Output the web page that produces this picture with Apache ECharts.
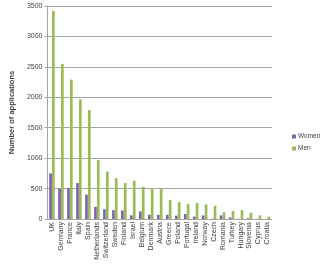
<!DOCTYPE html>
<html><head><meta charset="utf-8">
<script src="https://cdn.jsdelivr.net/npm/echarts@6/dist/echarts.min.js"></script>
<style>html,body{margin:0;padding:0;background:#fff}#c{width:320px;height:265px}</style>
</head><body><div id="c"></div>
<script>
var categories = ["UK","Germany","France","Italy","Spain","Netherlands","Switzerland","Sweden","Finland","Israel","Belgium","Denmark","Austria","Greece","Poland","Portugal","Ireland","Norway","Czech","Romania","Turkey","Hungary","Slovenia","Cyprus","Croatia"];
var women = [750,500,510,590,400,200,160,145,140,60,125,70,68,68,55,82,40,58,4,60,25,3,14,3,3];
var men = [3420,2550,2290,1965,1790,970,780,670,590,630,530,495,495,315,278,248,262,240,217,110,132,145,105,60,40];
var yTicks = {min:0, max:3500, interval:500};

var chart = echarts.init(document.getElementById('c'), null, {renderer:'canvas'});
var font = '"Liberation Sans", Arial, sans-serif';
chart.setOption({
  animation:false,
  textStyle:{fontFamily:font},
  grid:{left:40, right:48, top:6, bottom:46, containLabel:false},
  legend:{orient:'vertical', left:287, top:128, itemWidth:4, itemHeight:4, itemGap:5,
    icon:'rect', textStyle:{fontSize:6.5, color:'#404040', fontFamily:font, padding:[0,0,0,-3]},
    data:['Women','Men']},
  xAxis:{type:'category', data:categories, boundaryGap:true,
    axisLine:{lineStyle:{color:'#a6a6a6'}}, axisTick:{show:false},
    axisLabel:{rotate:90, fontSize:7, color:'#404040', margin:3, interval:0, fontFamily:font}},
  yAxis:{type:'value', min:yTicks.min, max:yTicks.max, interval:yTicks.interval,
    name:'Number of applications', nameLocation:'middle', nameGap:31,
    nameTextStyle:{fontSize:7.5, fontWeight:'bold', color:'#404040', fontFamily:font},
    axisLine:{show:true, lineStyle:{color:'#a6a6a6'}},
    axisTick:{show:true, length:3, lineStyle:{color:'#a6a6a6'}},
    splitLine:{lineStyle:{color:'#a6a6a6', width:1}},
    axisLabel:{fontSize:7, color:'#404040', margin:5, fontFamily:font, formatter:function(v){return String(v);}}},
  series:[
    {name:'Women', type:'bar', data:women, barWidth:2.7, barGap:'5%', itemStyle:{color:'#7f63b0'}},
    {name:'Men', type:'bar', data:men, barWidth:2.7, itemStyle:{color:'#9bbb59'}}
  ]
});
</script></body></html>
